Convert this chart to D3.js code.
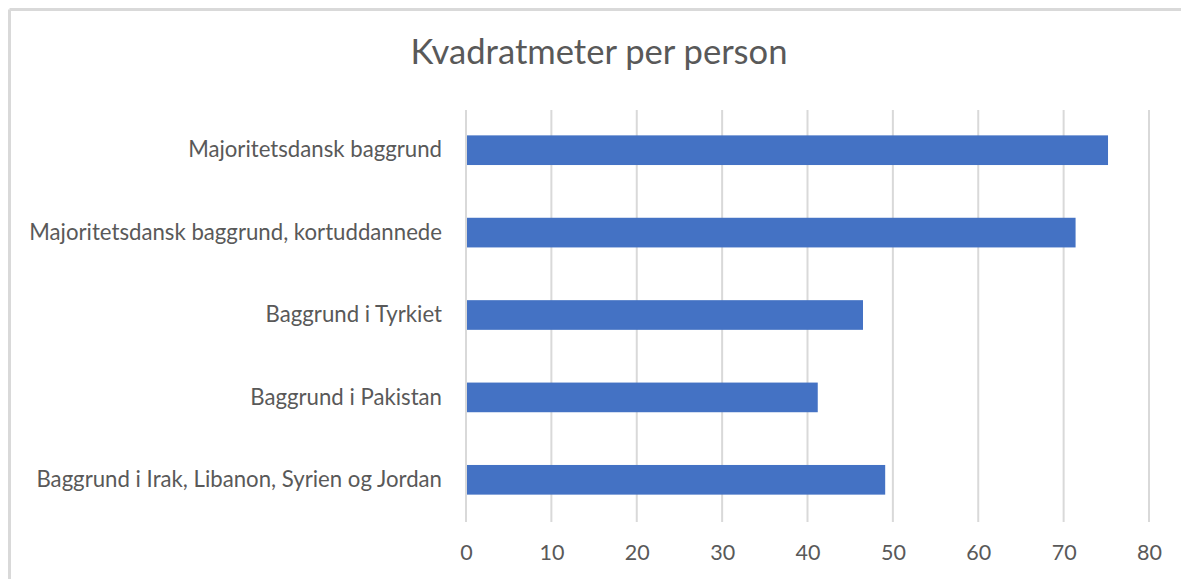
<!DOCTYPE html>
<html>
<head>
<meta charset="utf-8">
<script src="https://cdn.jsdelivr.net/npm/d3@7"></script>
<style>
  html, body { margin: 0; padding: 0; background: #fff; }
  svg { display: block; }
  text { font-family: Lato, "Open Sans", "Noto Sans", sans-serif; fill: #595959; }
</style>
</head>
<body>
<svg id="chart" width="1181" height="579"></svg>
<script>
const title = "Kvadratmeter per person";
const categories = [
  "Majoritetsdansk baggrund",
  "Majoritetsdansk baggrund, kortuddannede",
  "Baggrund i Tyrkiet",
  "Baggrund i Pakistan",
  "Baggrund i Irak, Libanon, Syrien og Jordan"
];
const values = [75.2, 71.4, 46.5, 41.2, 49.1];
const xTicks = [0, 10, 20, 30, 40, 50, 60, 70, 80];

const svg = d3.select("#chart");
const W = 1181, H = 579;

// chart frame (top and left border visible)
svg.append("line").attr("x1", 9.5).attr("x2", W).attr("y1", 9.5).attr("y2", 9.5)
  .attr("stroke", "#d9d9d9").attr("stroke-width", 3);
svg.append("line").attr("x1", 9.5).attr("x2", 9.5).attr("y1", 9.5).attr("y2", H)
  .attr("stroke", "#d9d9d9").attr("stroke-width", 3);

const x = d3.scaleLinear().domain([0, 80]).range([466, 1149]);
const y = d3.scaleBand().domain(categories).range([109, 521])
  .paddingInner(0.64).paddingOuter(0.32);

// gridlines
svg.append("g").selectAll("line").data(xTicks).join("line")
  .attr("x1", d => x(d)).attr("x2", d => x(d))
  .attr("y1", 110).attr("y2", 522)
  .attr("stroke", "#d9d9d9").attr("stroke-width", 2);

// bars
svg.append("g").selectAll("rect").data(categories).join("rect")
  .attr("x", x(0) + 1)
  .attr("y", d => y(d))
  .attr("width", (d, i) => x(values[i]) - x(0) - 1)
  .attr("height", y.bandwidth())
  .attr("fill", "#4472c4");

// x axis labels
const xAxis = d3.axisBottom(x).tickValues(xTicks).tickSize(0).tickPadding(0);
const gx = svg.append("g").attr("transform", "translate(0,545)").call(xAxis);
gx.select(".domain").remove();
gx.selectAll("text").attr("font-size", 21.5).attr("dy", "0.71em")
  .style("font-family", "Lato, 'Open Sans', sans-serif").attr("fill", "#595959");

// y axis labels
const yAxis = d3.axisLeft(y).tickSize(0).tickPadding(24);
const gy = svg.append("g").attr("transform", `translate(${x(0)},0)`).call(yAxis);
gy.select(".domain").remove();
gy.selectAll("text").attr("font-size", 22.2)
  .style("font-family", "Lato, 'Open Sans', sans-serif").attr("fill", "#595959");

// title
svg.append("text").attr("x", 599).attr("y", 64)
  .attr("text-anchor", "middle").attr("font-size", 34.6)
  .text(title);
</script>
</body>
</html>
